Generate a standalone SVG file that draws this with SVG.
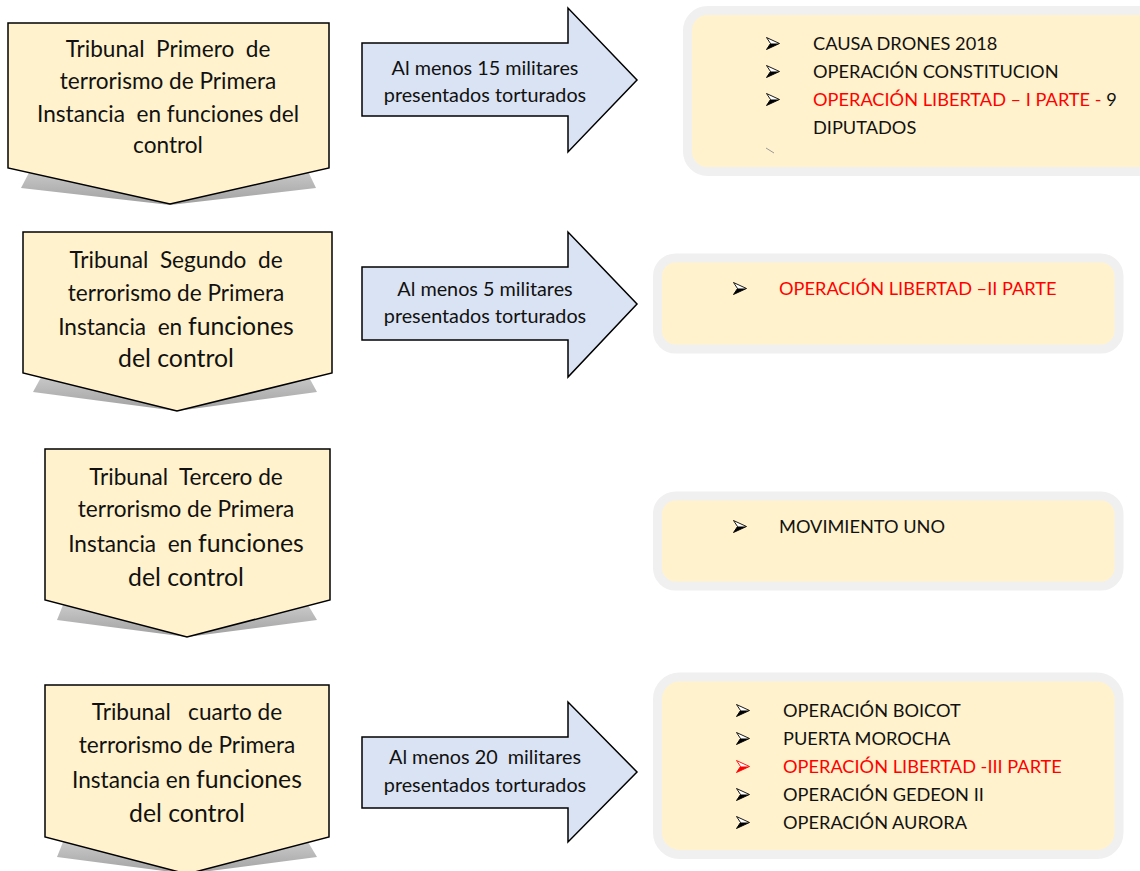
<svg xmlns="http://www.w3.org/2000/svg" width="1140" height="871" viewBox="0 0 1140 871">
<defs>
<linearGradient id="sh" x1="0" y1="0" x2="0" y2="1">
<stop offset="0" stop-color="#d0d0d0"/>
<stop offset="1" stop-color="#a0a0a0"/>
</linearGradient>
<symbol id="bk" viewBox="0 0 14 13" overflow="visible">
<path d="M0.5,0.5 L13.5,6.5 L0.5,12.5 L4.5,6.5 Z" fill="#fff" stroke="#000" stroke-width="0.9" stroke-linejoin="miter"/>
<path d="M4.5,6.5 L13.5,6.5 L0.5,12.5 Z" fill="#000"/>
</symbol>
<symbol id="br" viewBox="0 0 14 13" overflow="visible">
<path d="M0.5,0.5 L13.5,6.5 L0.5,12.5 L4.5,6.5 Z" fill="#fff" stroke="#f00" stroke-width="0.9" stroke-linejoin="miter"/>
<path d="M4.5,6.5 L13.5,6.5 L0.5,12.5 Z" fill="#f00"/>
</symbol>
</defs>
<style>
.pent{fill:#FFF2CC;stroke:#000;stroke-width:1.5}
.shadow{fill:url(#sh)}
.arr{fill:#DAE3F3;stroke:#000;stroke-width:1.5}
.panel{fill:#FFF2CC;stroke:#F0F0F0;stroke-width:9}
.t{font-family:Lato,"Liberation Sans",sans-serif;fill:#111;white-space:pre}
.pt{font-size:22.6px;text-anchor:middle}
.big{font-size:24.8px}
.at{font-size:19.8px;text-anchor:middle}
.lt{font-size:18.2px}
.red{fill:#FF0000}
</style>
<rect width="1140" height="871" fill="#fff"/>

<g id="tribunal1">
<polygon class="shadow" points="33,165 305,165 316,188 170,205 21,188"/>
<polygon class="pent" points="8,23 329,23 329,168 170,204 8,168"/>
<text class="t pt" x="168" y="57">Tribunal  Primero  de</text>
<text class="t pt" x="168" y="89">terrorismo de Primera</text>
<text class="t pt" x="168" y="122">Instancia  en funciones del</text>
<text class="t pt" x="168" y="153">control</text>
</g>

<g id="tribunal2">
<polygon class="shadow" points="45,370 305,370 317,392 177,411 33,392"/>
<polygon class="pent" points="23,232 332,232 332,373 177,411 23,373"/>
<text class="t pt" x="176" y="268">Tribunal  Segundo  de</text>
<text class="t pt" x="176" y="301">terrorismo de Primera</text>
<text class="t pt" x="176" y="335">Instancia  en <tspan class="big">funciones</tspan></text>
<text class="t pt" x="176" y="367"><tspan class="big">del control</tspan></text>
</g>

<g id="tribunal3">
<polygon class="shadow" points="65,600 305,600 317,620 187,637 57,620"/>
<polygon class="pent" points="45,449 330,449 330,600 187,637 45,600"/>
<text class="t pt" x="186" y="485">Tribunal  Tercero de</text>
<text class="t pt" x="186" y="517">terrorismo de Primera</text>
<text class="t pt" x="186" y="552">Instancia  en <tspan class="big">funciones</tspan></text>
<text class="t pt" x="186" y="586"><tspan class="big">del control</tspan></text>
</g>

<g id="tribunal4">
<polygon class="shadow" points="65,837 305,837 317,857 187,874 57,857"/>
<polygon class="pent" points="45,685 329,685 329,837 187,874 45,837"/>
<text class="t pt" x="187" y="720">Tribunal   cuarto de</text>
<text class="t pt" x="187" y="753">terrorismo de Primera</text>
<text class="t pt" x="187" y="788">Instancia en <tspan class="big">funciones</tspan></text>
<text class="t pt" x="187" y="822"><tspan class="big">del control</tspan></text>
</g>

<g id="connectors">
<g id="arrow1">
<polygon class="arr" points="362,43 568,43 568,8 637,80 568,152 568,116 362,116"/>
<text class="t at" x="485" y="75">Al menos 15 militares</text>
<text class="t at" x="485" y="102">presentados torturados</text>
</g>
<g id="arrow2">
<polygon class="arr" points="362,267 568,267 568,232 637,304 568,377 568,340 362,340"/>
<text class="t at" x="485" y="296">Al menos 5 militares</text>
<text class="t at" x="485" y="323">presentados torturados</text>
</g>
<g id="arrow3">
<polygon class="arr" points="362,737 568,737 568,702 637,772 568,842 568,808 362,808"/>
<text class="t at" x="485" y="764">Al menos 20  militares</text>
<text class="t at" x="485" y="792">presentados torturados</text>
</g>
</g>

<g id="list1">
<rect class="panel" x="687.5" y="10.5" width="480" height="161" rx="20"/>
<use href="#bk" x="766" y="37" width="14" height="13"/>
<use href="#bk" x="766" y="65" width="14" height="13"/>
<use href="#bk" x="766" y="93" width="14" height="13"/>
<text class="t lt" x="813" y="50">CAUSA DRONES 2018</text>
<text class="t lt" x="813" y="78">OPERACIÓN CONSTITUCION</text>
<text class="t lt" x="813" y="106"><tspan class="red">OPERACIÓN LIBERTAD – I PARTE - </tspan>9</text>
<text class="t lt" x="813" y="134">DIPUTADOS</text>
<path d="M766,148 L774,153" stroke="#999" stroke-width="1" fill="none"/>
</g>

<g id="list2">
<rect class="panel" x="657.5" y="258" width="461.5" height="91" rx="18"/>
<use href="#bk" x="733" y="282" width="14" height="13"/>
<text class="t lt red" x="779" y="295">OPERACIÓN LIBERTAD –II PARTE</text>
</g>

<g id="list3">
<rect class="panel" x="657.5" y="496" width="461.5" height="90" rx="18"/>
<use href="#bk" x="733" y="520" width="14" height="13"/>
<text class="t lt" x="779" y="533">MOVIMIENTO UNO</text>
</g>

<g id="list4">
<rect class="panel" x="657.5" y="677" width="461.5" height="177.5" rx="22"/>
<use href="#bk" x="736" y="704" width="14" height="13"/>
<use href="#bk" x="736" y="732" width="14" height="13"/>
<use href="#br" x="736" y="760" width="14" height="13"/>
<use href="#bk" x="736" y="788" width="14" height="13"/>
<use href="#bk" x="736" y="816" width="14" height="13"/>
<text class="t lt" x="783" y="717">OPERACIÓN BOICOT</text>
<text class="t lt" x="783" y="745">PUERTA MOROCHA</text>
<text class="t lt red" x="783" y="773">OPERACIÓN LIBERTAD -III PARTE</text>
<text class="t lt" x="783" y="801">OPERACIÓN GEDEON II</text>
<text class="t lt" x="783" y="829">OPERACIÓN AURORA</text>
</g>
</svg>
